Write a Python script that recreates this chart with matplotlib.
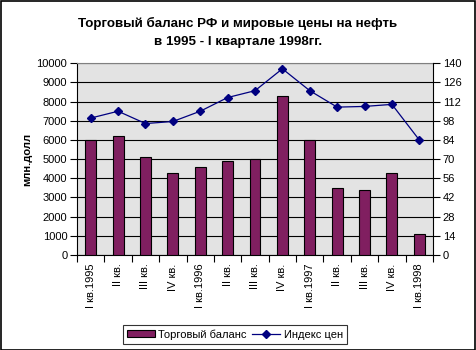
import matplotlib
matplotlib.use("Agg")
import matplotlib.pyplot as plt
from matplotlib.patches import Rectangle, Patch
from matplotlib.lines import Line2D
import numpy as np

plt.rcParams['font.family'] = ['Liberation Sans', 'DejaVu Sans']

quarters = ["I кв.1995", "II кв.", "III кв.", "IV кв.",
            "I кв.1996", "II кв.", "III кв.", "IV кв.",
            "I кв.1997", "II кв.", "III кв.", "IV кв.",
            "I кв.1998"]
trade_balance = [6000, 6200, 5100, 4300, 4600, 4900, 5000, 8300, 6000, 3500, 3400, 4300, 1100]
price_index = [100, 105, 96, 97.5, 105, 115, 120, 136, 120, 108, 108.5, 110, 84]

bar_color = "#801F60"
line_color = "#000080"
tick_fs = 8

fig = plt.figure(figsize=(4.76, 3.5), dpi=100)
fig.patch.set_facecolor("white")

ax = fig.add_axes([77 / 476, 1 - 255 / 350, 356 / 476, (255 - 63.3) / 350])
ax.set_facecolor("#E3E3E3")
x = np.arange(len(quarters))
ax.bar(x, trade_balance, width=0.4, color=bar_color, edgecolor="black", linewidth=0.8, zorder=3)
ax.set_xlim(-0.5, len(quarters) - 0.5)
ax.set_ylim(0, 10000)
ax.set_yticks(np.arange(0, 10001, 1000))
ax.yaxis.grid(True, color="black", linewidth=0.8, zorder=1)
ax.set_axisbelow(True)
ax.set_xticks(np.arange(-0.5, len(quarters), 1.0))
ax.set_xticklabels([])
ax.set_xticks(x, minor=True)
ax.set_xticklabels(quarters, minor=True, rotation=90, fontsize=tick_fs)
ax.tick_params(axis="x", which="minor", length=0, pad=6)
ax.tick_params(axis="x", which="major", length=5, width=0.8, direction="out")
ax.tick_params(axis="y", length=5, width=0.8, direction="out", labelsize=tick_fs, pad=2)
ax.spines["right"].set_visible(False)
ax.spines["left"].set_linewidth(0.8)
ax.spines["bottom"].set_linewidth(0.8)
ax.spines["top"].set_color("#808080")
ax.spines["top"].set_linewidth(0.8)
ax.set_ylabel("млн.долл", fontsize=tick_fs, fontweight="bold", labelpad=3)

ax2 = ax.twinx()
ax2.plot(x, price_index, color=line_color, linewidth=0.9, marker="D", markersize=4.5,
         markerfacecolor=line_color, markeredgecolor=line_color, zorder=5)
ax2.set_ylim(0, 140)
ax2.set_yticks(np.arange(0, 141, 14))
ax2.tick_params(axis="y", length=5, width=0.8, direction="out", labelsize=tick_fs, pad=2)
for s in ["top", "left", "bottom"]:
    ax2.spines[s].set_visible(False)
ax2.spines["right"].set_linewidth(0.8)

fig.text(0.5, 1 - 23 / 350, "Торговый баланс РФ и мировые цены на нефть",
         ha="center", va="center", fontsize=9.6, fontweight="bold")
fig.text(0.5, 1 - 42 / 350, "в 1995 - I квартале 1998гг.",
         ha="center", va="center", fontsize=9.6, fontweight="bold")

handles = [Patch(facecolor=bar_color, edgecolor="black", linewidth=0.8),
           Line2D([0], [0], color=line_color, linewidth=0.9, marker="D", markersize=4.5,
                  markerfacecolor=line_color)]
leg = fig.legend(handles, ["Торговый баланс", "Индекс цен"], loc="center",
                 bbox_to_anchor=(235 / 476, 1 - 334.5 / 350), ncol=2, fontsize=tick_fs,
                 frameon=True, fancybox=False, edgecolor="black", handlelength=2.5,
                 handleheight=0.6, handletextpad=0.3, columnspacing=0.5,
                 borderpad=0.35, borderaxespad=0)
leg.get_frame().set_linewidth(0.8)

fig.add_artist(Rectangle((0.5 / 476, 0.5 / 350), 1 - 1.5 / 476, 1 - 1.5 / 350,
                         transform=fig.transFigure, fill=False, edgecolor="black", linewidth=1.2))

fig.savefig("out.png", dpi=100)
